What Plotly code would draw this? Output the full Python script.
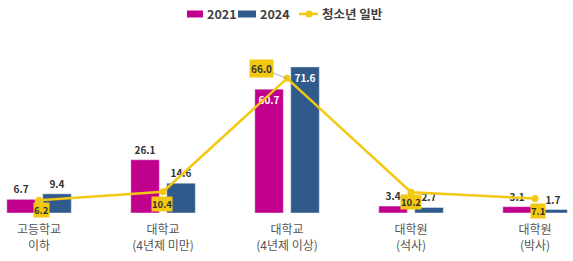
import plotly.graph_objects as go

categories = ["고등학교<br>이하", "대학교<br>(4년제 미만)", "대학교<br>(4년제 이상)", "대학원<br>(석사)", "대학원<br>(박사)"]
v2021 = [6.7, 26.1, 60.7, 3.4, 3.1]
v2024 = [9.4, 14.6, 71.6, 2.7, 1.7]
general = [6.2, 10.4, 66.0, 10.2, 7.1]
series_names = ["2021", "2024", "청소년 일반"]

MAG = "#c2008e"
BLUE = "#2f5a8b"
YEL = "#f2c811"
FONT = "Noto Sans CJK KR"

W, H, T, B = 573, 261, 20, 48
PH = H - T - B

xs = list(range(len(categories)))

fig = go.Figure()
for vals, name, color, off in [(v2021, series_names[0], MAG, -0.26),
                               (v2024, series_names[1], BLUE, 0.03)]:
    inside = [v > 50 for v in vals]
    fig.add_trace(go.Bar(
        x=xs, y=vals, name=name, marker_color=color, width=0.23, offset=off,
        text=[f"<b>{v:.1f}</b>" for v in vals],
        textposition=["inside" if i else "outside" for i in inside],
        insidetextanchor="end",
        textfont=dict(family=FONT, size=10, color=["white" if i else "#333" for i in inside]),
        cliponaxis=False, showlegend=False,
    ))
fig.add_trace(go.Scatter(
    x=xs, y=general, name=series_names[2], mode="lines+markers",
    line=dict(color=YEL, width=2.5), marker=dict(size=7, color=YEL),
    cliponaxis=False, showlegend=False,
))

shifts = [(2, -10), (-1, -12), None, (0, -10), (3, -12)]
for i, v in enumerate(general):
    if shifts[i] is None:
        fig.add_annotation(x=xs[i], y=v, text=f"<b>{v:.1f}</b>", showarrow=True,
                           arrowhead=0, arrowwidth=0.8, arrowcolor="#999",
                           ax=-26, ay=-10, bgcolor=YEL, borderpad=1,
                           font=dict(family=FONT, size=10, color="#333"))
    else:
        fig.add_annotation(x=xs[i], y=v, text=f"<b>{v:.1f}</b>", showarrow=False,
                           xshift=shifts[i][0], yshift=shifts[i][1], bgcolor=YEL, borderpad=0,
                           font=dict(family=FONT, size=9.5, color="#333"))

# manual legend (pixel positions converted to paper coords)
def px(x):
    return x / W

def py(y):
    return 1 + (T - y) / PH

LY = 14
fig.add_shape(type="rect", xref="paper", yref="paper", x0=px(187), x1=px(203),
              y0=py(LY - 3.5), y1=py(LY + 3.5), fillcolor=MAG, line_width=0)
fig.add_shape(type="rect", xref="paper", yref="paper", x0=px(238), x1=px(256),
              y0=py(LY - 3.5), y1=py(LY + 3.5), fillcolor=BLUE, line_width=0)
fig.add_shape(type="line", xref="paper", yref="paper", x0=px(299), x1=px(318),
              y0=py(LY), y1=py(LY), line=dict(color=YEL, width=2.5))
fig.add_shape(type="circle", xref="paper", yref="paper", x0=px(305.5), x1=px(312.5),
              y0=py(LY - 3.5), y1=py(LY + 3.5), fillcolor=YEL, line_width=0)
for name, x0 in zip(series_names, [205, 258, 320]):
    fig.add_annotation(xref="paper", yref="paper", x=px(x0), y=py(LY), xanchor="left",
                       yanchor="middle", showarrow=False, text=f"<b>{name}</b>",
                       font=dict(family=FONT, size=12.5, color="#404040"))

fig.update_layout(
    width=W, height=H,
    margin=dict(l=0, r=0, t=T, b=B, autoexpand=False),
    paper_bgcolor="white", plot_bgcolor="white",
    barmode="overlay",
    font=dict(family=FONT, color="#444"),
    showlegend=False,
    xaxis=dict(tickmode="array", tickvals=xs, ticktext=categories,
               range=[-0.315, 4.306], showgrid=False, zeroline=False, showline=False,
               ticks="", ticklabelstandoff=8, automargin=False,
               tickfont=dict(family=FONT, size=12, color="#555")),
    yaxis=dict(range=[0, 94.6], visible=False),
)
fig.write_html("out.html")
